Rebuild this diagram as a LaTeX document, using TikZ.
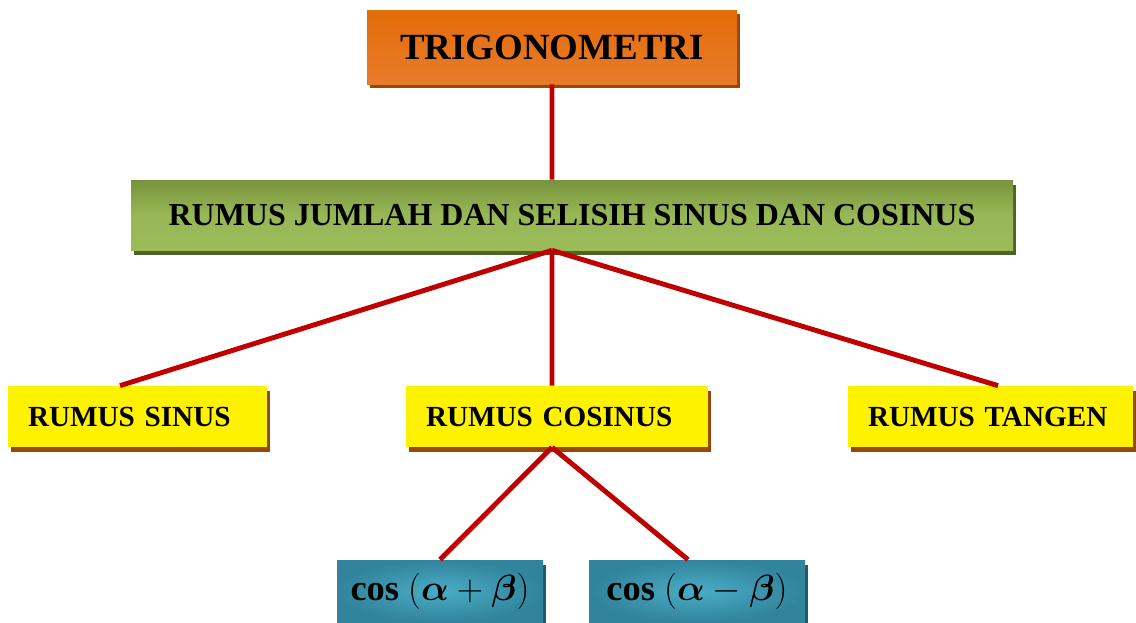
\documentclass[tikz,border=0pt]{standalone}
\usepackage{fontspec}
\setmainfont{Liberation Serif}
\usepackage{amsmath,bm}
\usepackage{tikz}
\usetikzlibrary{calc}
\usetikzlibrary{shadows}
\definecolor{orangeA}{HTML}{E36C0A}
\definecolor{orangeB}{HTML}{E87B2A}
\definecolor{orangeS}{HTML}{984807}
\definecolor{greenA}{HTML}{77933C}
\definecolor{greenB}{HTML}{9BBB59}
\definecolor{greenS}{HTML}{4F6228}
\definecolor{yellowS}{HTML}{984807}
\definecolor{tealA}{HTML}{31849B}
\definecolor{tealB}{HTML}{4BACC6}
\definecolor{tealS}{HTML}{215968}
\definecolor{redline}{HTML}{C00000}

\begin{document}
\begin{tikzpicture}
\tikzset{box/.style={rectangle,inner sep=0pt,text=black},
orangebox/.style={box,top color=orangeA,bottom color=orangeB,
  general shadow={fill=orangeS,shadow xshift=0.06cm,shadow yshift=-0.08cm}},
greenbox/.style={box,top color=greenA,bottom color=greenB,middle color=greenB!90!greenA,
  general shadow={fill=greenS,shadow xshift=0.06cm,shadow yshift=-0.1cm}},
yellowbox/.style={box,fill=yellow,inner xsep=0.4cm,align=left,minimum height=1.22cm,
  font=\bfseries\fontsize{16.6}{20}\selectfont,
  general shadow={fill=yellowS,shadow xshift=0.05cm,shadow yshift=-0.1cm}},
tealbox/.style={box,inner color=tealB,outer color=tealA,minimum height=1.24cm,
  font=\bfseries\huge,
  general shadow={fill=tealS,shadow xshift=0.06cm,shadow yshift=-0.1cm}},
link/.style={draw=redline,line width=2.8pt}}
\useasboundingbox (0,0) rectangle (22.72,-12.44);

\node (trig) at (11.04,-0.94) [orangebox,minimum width=7.4cm,minimum height=1.48cm,font=\bfseries\fontsize{21}{25}\selectfont] {TRIGONOMETRI};
\node (jumlah) at (11.44,-4.3) [greenbox,minimum width=17.64cm,minimum height=1.4cm,font=\bfseries\fontsize{18.2}{22}\selectfont] {RUMUS JUMLAH DAN SELISIH SINUS DAN COSINUS};
\node (sinus) at (2.75,-8.33) [yellowbox,text width=4.38cm] {RUMUS SINUS};
\node (cosinus) at (11.14,-8.33) [yellowbox,text width=5.24cm] {RUMUS COSINUS};
\node (tangen) at (19.81,-8.33) [yellowbox,text width=4.9cm] {RUMUS TANGEN};
\node (plus) at (8.8,-11.82) [tealbox,minimum width=4.12cm] {cos $(\bm{\alpha}+\bm{\beta})$};
\node (minus) at (13.94,-11.82) [tealbox,minimum width=4.32cm] {cos $(\bm{\alpha}-\bm{\beta})$};

\path
(trig.south) edge [link] ([xshift=-0.4cm]jumlah.north)
([xshift=-0.4cm]jumlah.south) edge [link] ([xshift=-0.35cm]sinus.north)
([xshift=-0.4cm]jumlah.south) edge [link] ([xshift=-0.1cm]cosinus.north)
([xshift=-0.4cm]jumlah.south) edge [link] ([xshift=0.15cm]tangen.north)
([xshift=-0.1cm]cosinus.south) edge [link] (plus.north)
([xshift=-0.1cm]cosinus.south) edge [link] ([xshift=-0.18cm]minus.north);
\end{tikzpicture}
\end{document}
